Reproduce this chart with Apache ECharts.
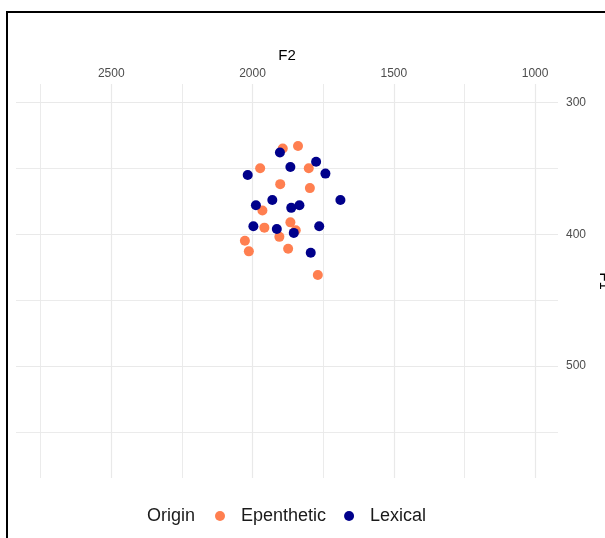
<!DOCTYPE html>
<html>
<head>
<meta charset="utf-8">
<script src="https://cdn.jsdelivr.net/npm/echarts@6/dist/echarts.min.js"></script>
<style>
html,body{margin:0;padding:0;background:#fff;}
#chart{width:605px;height:538px;}
</style>
</head>
<body>
<div id="chart"></div>
<script>
// Data
const epenF2 = [1893, 1839, 1973, 1801, 1902, 1797, 1965, 1866, 1958, 1847, 1905, 2027, 2013, 1874, 1769];
const epenF1 = [335, 333, 350, 350, 362, 365, 382, 391, 395, 397, 402, 405, 413, 411, 431];
const lexF2 = [1903, 1866, 1775, 2017, 1742, 1930, 1689, 1988, 1863, 1834, 1997, 1914, 1854, 1764, 1794];
const lexF1 = [338, 349, 345, 355, 354, 374, 374, 378, 380, 378, 394, 396, 399, 394, 414];
const seriesNames = ['Epenthetic', 'Lexical'];
const legendTitle = 'Origin';
const xName = 'F2';
const yName = 'F1';

const pairs = (a, b) => a.map((v, i) => [v, b[i]]);
const FONT = '"Liberation Sans", Arial, sans-serif';
const GRID = '#E9E9E9';

const chart = echarts.init(document.getElementById('chart'), null, {renderer: 'canvas'});
chart.setOption({
  animation: false,
  backgroundColor: '#fff',
  textStyle: {fontFamily: FONT},
  grid: {left: 16, right: 47, top: 84, bottom: 60, containLabel: false, outerBoundsMode: 'none'},
  xAxis: {
    type: 'value', position: 'top', inverse: true,
    min: 919, max: 2837, splitNumber: 4,
    name: xName, nameLocation: 'middle', nameGap: 14,
    nameTextStyle: {color: '#000', fontSize: 15, fontFamily: FONT},
    axisLine: {show: false}, axisTick: {show: false},
    axisLabel: {color: '#4D4D4D', fontSize: 12, margin: 4, showMinLabel: false, showMaxLabel: false, fontFamily: FONT,
                formatter: v => String(Math.round(v))},
    splitLine: {show: true, showMinLine: false, showMaxLine: false, lineStyle: {color: GRID, width: 1.2}},
    minorTick: {show: false, splitNumber: 2},
    minorSplitLine: {show: true, lineStyle: {color: GRID, width: 0.9}}
  },
  yAxis: {
    type: 'value', position: 'right', inverse: true,
    min: 286, max: 585, splitNumber: 3,
    name: yName, nameLocation: 'middle', nameGap: 32, nameRotate: -90,
    nameTextStyle: {color: '#000', fontSize: 15, fontFamily: FONT},
    axisLine: {show: false}, axisTick: {show: false},
    axisLabel: {color: '#4D4D4D', fontSize: 12, margin: 8, showMinLabel: false, showMaxLabel: false, fontFamily: FONT,
                formatter: v => String(Math.round(v))},
    splitLine: {show: true, showMinLine: false, showMaxLine: false, lineStyle: {color: GRID, width: 1.2}},
    minorTick: {show: false, splitNumber: 2},
    minorSplitLine: {show: true, lineStyle: {color: GRID, width: 0.9}}
  },
  legend: {
    data: seriesNames,
    orient: 'horizontal', left: 210, top: 502,
    itemWidth: 32, itemHeight: 10, itemGap: 18, icon: 'circle',
    textStyle: {fontSize: 18, color: '#1A1A1A', fontFamily: FONT}
  },
  graphic: [
    {type: 'text', left: 147, top: 507, style: {text: legendTitle, fontSize: 18, fill: '#1A1A1A', font: '18px ' + FONT}},
    {type: 'rect', shape: {x: 7, y: 12, width: 700, height: 600}, style: {fill: null, stroke: '#000', lineWidth: 2}, silent: true, z: 100}
  ],
  series: [
    {name: seriesNames[0], type: 'scatter', symbol: 'circle', symbolSize: 10,
     itemStyle: {color: '#FF7F50', opacity: 1}, data: pairs(epenF2, epenF1), z: 2},
    {name: seriesNames[1], type: 'scatter', symbol: 'circle', symbolSize: 10,
     itemStyle: {color: '#00008B', opacity: 1}, data: pairs(lexF2, lexF1), z: 3}
  ]
});
</script>
</body>
</html>
